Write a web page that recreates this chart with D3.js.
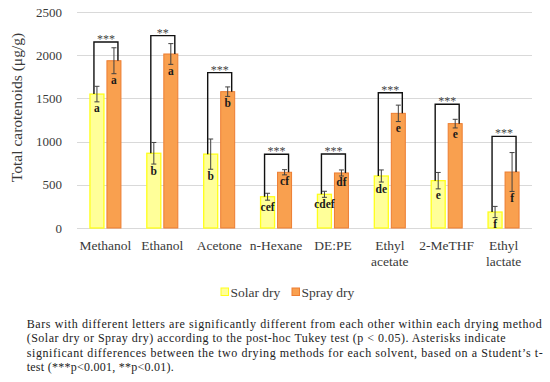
<!DOCTYPE html>
<html><head><meta charset="utf-8">
<script src="https://cdn.jsdelivr.net/npm/d3@7"></script>
<style>body{margin:0;background:#fff}svg{display:block}
svg text{font-family:"Liberation Serif","DejaVu Serif",serif;}</style>
</head><body>
<svg id="c" width="550" height="382"></svg>
<script>
const categories = ["Methanol","Ethanol","Acetone","n-Hexane","DE:PE","Ethyl acetate","2-MeTHF","Ethyl lactate"];
const solar = [1550, 865, 855, 362, 390, 602, 548, 185];
const solarErr = [90, 125, 175, 40, 35, 70, 95, 65];
const spray = [1936, 2014, 1578, 645, 637, 1327, 1208, 648];
const sprayErr = [150, 120, 55, 30, 35, 95, 50, 225];
const solarLetters = ["a","b","b","cef","cdef","de","e","f"];
const sprayLetters = ["a","a","b","cf","df","e","e","f"];
const bracketTop = [2153, 2226, 1798, 853, 856, 1566, 1432, 1061];
const stars = ["***","**","***","***","***","***","***","***"];
const yTicks = [0, 500, 1000, 1500, 2000, 2500];
const seriesNames = ["Solar dry", "Spray dry"];
const captionLines = [
  "Bars with different letters are significantly different from each other within each drying method",
  "(Solar dry or Spray dry) according to the post-hoc Tukey test (p < 0.05). Asterisks indicate",
  "significant differences between the two drying methods for each solvent, based on a Student\u2019s t-",
  "test (***p<0.001, **p<0.01)."
];

const svg = d3.select("#c");
const textCol = "#3a3a3a";
const x0 = d3.scaleBand().domain(categories).range([77, 532]);
const y = d3.scaleLinear().domain([0, 2500]).range([228, 12]);
const bw = 14, gap = 3;
const solarX = c => x0(c) + x0.bandwidth()/2 - gap/2 - bw;
const sprayX = c => x0(c) + x0.bandwidth()/2 + gap/2;

svg.append("g").selectAll("line").data(yTicks).join("line")
  .attr("x1", 77).attr("x2", 532)
  .attr("y1", d => Math.round(y(d)) + 0.5).attr("y2", d => Math.round(y(d)) + 0.5)
  .attr("stroke", "#d9d9d9").attr("stroke-width", 1);

svg.append("g").selectAll("text").data(yTicks).join("text")
  .attr("x", 62).attr("y", d => y(d) + 4.5)
  .attr("text-anchor", "end").style("font-size", "13px")
  .attr("fill", textCol).text(d => d);

svg.append("text")
  .attr("transform", "translate(22,107.5) rotate(-90)")
  .attr("text-anchor", "middle").style("font-size", "15.5px")
  .attr("fill", textCol).text("Total carotenoids (\u03bcg/g)");

const g = svg.append("g");
g.selectAll("rect.solar").data(categories).join("rect")
  .attr("x", c => solarX(c)).attr("width", bw)
  .attr("y", (c,i) => y(solar[i])).attr("height", (c,i) => y(0) - y(solar[i]))
  .attr("fill", "#FFFF99").attr("stroke", "#FFFF1A").attr("stroke-width", 1.3);
g.selectAll("rect.spray").data(categories).join("rect")
  .attr("x", c => sprayX(c)).attr("width", bw)
  .attr("y", (c,i) => y(spray[i])).attr("height", (c,i) => y(0) - y(spray[i]))
  .attr("fill", "#F9A04F").attr("stroke", "#ED7D31").attr("stroke-width", 1);

categories.forEach((c, i) => {
  const lx = solarX(c) + 4, rx = sprayX(c) + bw - 3;
  const ty = y(bracketTop[i]);
  g.append("path")
    .attr("d", `M${lx},${y(solar[i])}V${ty}H${rx}V${y(spray[i])}`)
    .attr("fill", "none").attr("stroke", "#111").attr("stroke-width", 1.4);
  g.append("text").attr("x", (lx + rx)/2).attr("y", ty + 1)
    .attr("text-anchor", "middle").style("font-size", "12px")
    .attr("fill", "#444").text(stars[i]);
});

function errBars(xf, vals, errs) {
  categories.forEach((c, i) => {
    const cx = xf(c) + bw/2;
    const t = y(vals[i] + errs[i]), b = y(vals[i] - errs[i]);
    g.append("path")
      .attr("d", `M${cx},${t}V${b}M${cx-2.5},${t}H${cx+2.5}M${cx-2.5},${b}H${cx+2.5}`)
      .attr("fill", "none").attr("stroke", "#404040").attr("stroke-width", 1);
  });
}
errBars(solarX, solar, solarErr);
errBars(sprayX, spray, sprayErr);

function letters(xf, vals, errs, labs) {
  categories.forEach((c, i) => {
    g.append("text").attr("x", xf(c) + bw/2).attr("y", y(vals[i] - errs[i]) + 10.5)
      .attr("text-anchor", "middle").style("font-size", "11.5px")
      .attr("font-weight", "bold").attr("fill", "#1a1a1a").text(labs[i]);
  });
}
letters(solarX, solar, solarErr, solarLetters);
letters(sprayX, spray, sprayErr, sprayLetters);

const xl = svg.append("g");
categories.forEach(c => {
  const words = c === "Ethyl acetate" || c === "Ethyl lactate" ? c.split(" ") : [c];
  const t = xl.append("text").attr("text-anchor", "middle")
    .style("font-size", "13.5px").attr("fill", textCol);
  words.forEach((w, k) => t.append("tspan").attr("x", x0(c) + x0.bandwidth()/2)
    .attr("y", 250 + k*16).text(w));
});

const leg = [{x: 221, fill: "#FFFF99", stroke: "#FFFF1A"}, {x: 292, fill: "#F9A04F", stroke: "#ED7D31"}];
leg.forEach((l, i) => {
  svg.append("rect").attr("x", l.x).attr("y", 288).attr("width", 7.5).attr("height", 7.5)
    .attr("fill", l.fill).attr("stroke", l.stroke).attr("stroke-width", 1);
  svg.append("text").attr("x", l.x + 9.5).attr("y", 296.5)
    .style("font-size", "13.5px").attr("fill", textCol).text(seriesNames[i]);
});

const capW = [515, 479, 516, 147];
const capY = [327.5, 342, 356.5, 371];
captionLines.forEach((s, i) => {
  svg.append("text").attr("x", 26.7).attr("y", capY[i])
    .style("font-size", "12px").attr("fill", "#222")
    .attr("textLength", capW[i]).attr("lengthAdjust", "spacing").text(s);
});
</script>
</body></html>
